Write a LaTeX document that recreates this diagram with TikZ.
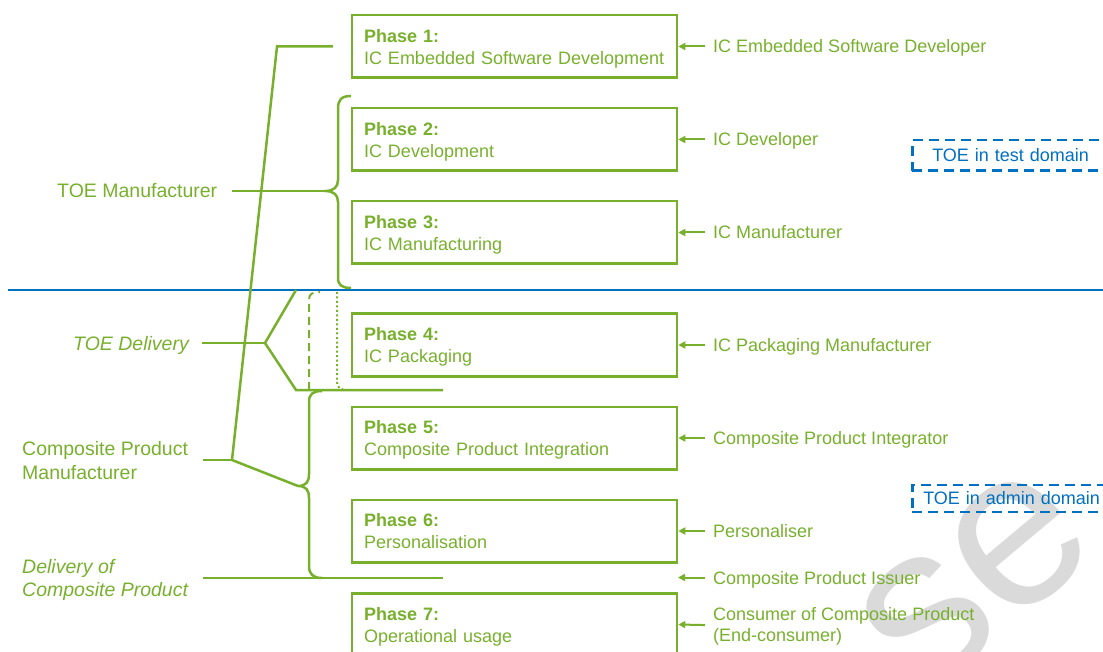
\documentclass[tikz,border=0pt]{standalone}
\usepackage{fontspec}
\setmainfont{Liberation Sans}
\usetikzlibrary{arrows.meta}
\definecolor{grn}{RGB}{120,176,45}
\definecolor{blu}{RGB}{0,112,192}
\definecolor{wm}{RGB}{218,218,218}
\newcommand{\phtxt}[2]{\rule{0pt}{17pt}\textbf{Phase #1:}\\#2\vphantom{p}}
\begin{document}
\begin{tikzpicture}[x=1pt,y=-1pt,
  phasebox/.style={draw=grn, line width=2.5pt, minimum height=62.5pt, text width=301pt,
    align=left, inner xsep=12pt, text=grn, font=\fontsize{18}{22}\selectfont},
  role/.style={anchor=west, inner sep=0pt, text=grn, font=\fontsize{18}{22}\selectfont,
    text height=13pt, text depth=0pt},
  rolemulti/.style={anchor=north west, inner sep=0pt, text=grn, align=left,
    font=\fontsize{18}{21}\selectfont},
  leftlbl/.style={anchor=west, inner sep=0pt, text=grn, font=\fontsize{19.5}{24}\selectfont,
    text height=14pt, text depth=0pt},
  leftmulti/.style={anchor=north west, inner sep=0pt, text=grn, align=left},
  arr/.style={draw=grn, line width=2pt, -{Triangle[length=7pt,width=7pt]}},
  conn/.style={draw=grn, line width=2.5pt},
  domainbox/.style={draw=blu, line width=2.5pt, dash pattern=on 10pt off 6pt, text=blu,
    anchor=west, align=left, font=\fontsize{18}{22}\selectfont, text width=190pt}
]
\clip (0,0) rectangle (1103,652);
\useasboundingbox (0,0) rectangle (1103,652);

% watermark
\node[text=wm, font=\fontsize{225}{225}\selectfont, rotate=40, inner sep=0pt] (wmk) at (975,580) {se};

% phase boxes
\node[phasebox] (p1) at (514.5,46.5) {\phtxt{1}{IC Embedded Software Development}};
\node[phasebox] (p2) at (514.5,139.5) {\phtxt{2}{IC Development}};
\node[phasebox] (p3) at (514.5,232.5) {\phtxt{3}{IC Manufacturing}};
\node[phasebox] (p4) at (514.5,345) {\phtxt{4}{IC Packaging}};
\node[phasebox] (p5) at (514.5,438) {\phtxt{5}{Composite Product Integration}};
\node[phasebox] (p6) at (514.5,531) {\phtxt{6}{Personalisation}};
\node[phasebox] (p7) at (514.5,624.5) {\phtxt{7}{Operational usage}};

% roles
\node[role] (r1) at (713,46.5) {IC Embedded Software Developer};
\node[role] (r2) at (713,139.5) {IC Developer};
\node[role] (r3) at (713,232.5) {IC Manufacturer};
\node[role] (r4) at (713,345) {IC Packaging Manufacturer};
\node[role] (r5) at (713,438) {Composite Product Integrator};
\node[role] (r6) at (713,531) {Personaliser};
\node[role] (r7) at (713,577.5) {Composite Product Issuer};
\node[rolemulti] (r8) at (713,604.5) {\rule{0pt}{16pt}Consumer of Composite Product\\(End-consumer)};
\coordinate (iss) at (678,577.5);

\draw[arr] ([xshift=-8pt]r1.west) -- (p1.east);
\draw[arr] ([xshift=-8pt]r2.west) -- (p2.east);
\draw[arr] ([xshift=-8pt]r3.west) -- (p3.east);
\draw[arr] ([xshift=-8pt]r4.west) -- (p4.east);
\draw[arr] ([xshift=-8pt]r5.west) -- (p5.east);
\draw[arr] ([xshift=-8pt]r6.west) -- (p6.east);
\draw[arr] ([xshift=-8pt]r7.west) -- (iss);
\draw[arr] ([xshift=-8pt]r8.west) -- (p7.east);

% domain boxes
\node[domainbox, inner xsep=20pt, minimum height=30.5pt] (dt) at (911,155.5) {TOE in test domain};
\node[domainbox, inner xsep=11pt, minimum height=27pt] (da) at (911,498.5) {TOE in admin domain};

% blue separator
\coordinate (sepL) at (8,290);
\coordinate (sepR) at (1110,290);
\draw[draw=blu, line width=2.5pt] (sepL) -- (sepR);

% left labels
\node[leftlbl] (tm) at (57,191) {TOE Manufacturer};
\node[leftlbl, font=\fontsize{19.5}{24}\selectfont\itshape] (tdl) at (73,343) {TOE Delivery};
\node[leftmulti, font=\fontsize{19.5}{24}\selectfont] (cpm) at (22,439) {\rule{0pt}{16pt}Composite Product\\Manufacturer};
\node[leftmulti, font=\fontsize{19.5}{23}\selectfont\itshape] (dcp) at (22,557.3) {\rule{0pt}{16pt}Delivery of\\Composite Product};

% connector points
\coordinate (b1tip) at (325,191);
\coordinate (b2tip) at (298,486);
\coordinate (p1l) at ([xshift=-18pt]p1.west);
\coordinate (knee1) at (277,46.5);
\coordinate (knee2) at (232,460);
\coordinate (fork) at (265,343);
\coordinate (forkUp) at (296,290);
\coordinate (forkDn) at (296,390);
\coordinate (lineA) at (443,390);
\coordinate (lineB) at (443,578);

% upper brace
\draw[conn] (351,96) .. controls (341,96) and (338,100) .. (338,109) -- (338,180)
  .. controls (338,187) and (334,191) .. (b1tip)
  .. controls (334,191) and (338,195) .. (338,202) -- (338,278)
  .. controls (338,285) and (342,288) .. (351,288);
\draw[conn] ([xshift=15pt]tm.east) -- (b1tip);

% slanted TOE manufacturer / composite product manufacturer line
\draw[conn] (p1l) -- (knee1) -- (knee2) -- (b2tip);
\draw[conn] ([xshift=-29pt]knee2) -- (knee2);

% TOE delivery fork
\draw[conn] ([xshift=13pt]tdl.east) -- (fork);
\draw[conn] (forkUp) -- (fork) -- (forkDn) -- (lineA);
\draw[draw=grn, line width=2pt, dash pattern=on 8pt off 5pt]
  (309,390) -- (309,300) .. controls (309,294) and (312,292) .. (320,292);
\draw[draw=grn, line width=2pt, dash pattern=on 2pt off 2.5pt]
  (337,292) -- (337,382) .. controls (337,387) and (340,390) .. (347,390);

% lower brace
\draw[conn] (322,391) .. controls (313,391) and (309,394) .. (309,402) -- (309,474)
  .. controls (309,482) and (306,486) .. (b2tip)
  .. controls (306,486) and (309,490) .. (309,498) -- (309,566)
  .. controls (309,574) and (313,578) .. (322,578);
\draw[conn] (203,578) -- (lineB);
\end{tikzpicture}
\end{document}
